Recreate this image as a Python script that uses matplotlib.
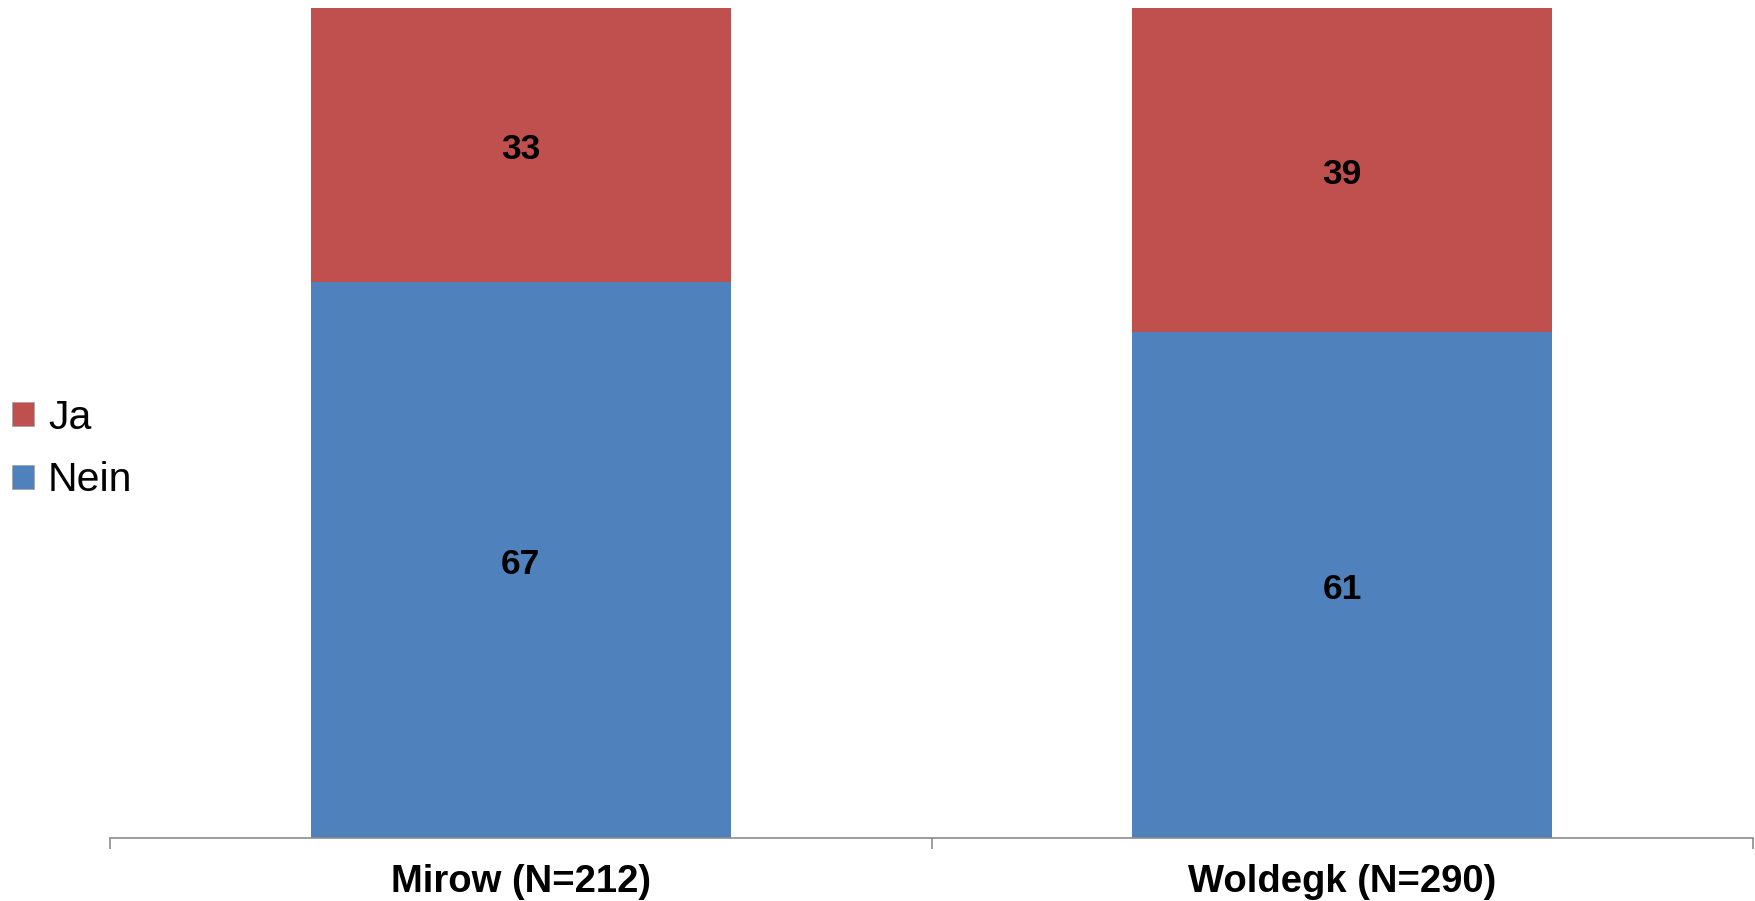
import matplotlib
matplotlib.use("Agg")
import matplotlib.pyplot as plt
from matplotlib.patches import Patch

# --- Data ---
categories = ["Mirow (N=212)", "Woldegk (N=290)"]
nein = [67, 61]
ja = [33, 39]

BLUE = "#4F81BD"
RED = "#C0504D"

plt.rcParams["font.family"] = ["Liberation Sans", "DejaVu Sans"]

fig = plt.figure(figsize=(17.56, 9.01), dpi=100)
ax = fig.add_axes([110 / 1756, 1 - 838 / 901, (1753 - 110) / 1756, (838 - 8) / 901])

x = list(range(len(categories)))
width = 0.511
ax.bar(x, nein, width=width, color=BLUE, label="Nein")
ax.bar(x, ja, width=width, bottom=nein, color=RED, label="Ja")

# value labels in the middle of each segment
for i in x:
    for val, mid in [(nein[i], nein[i] / 2), (ja[i], nein[i] + ja[i] / 2)]:
        ax.annotate(str(val), (i, mid), xytext=(0, -3), textcoords="offset points",
                    ha="center", va="center", fontsize=25.5, fontweight="bold",
                    color="black")

ax.set_xlim(-0.5, len(categories) - 0.5)
ax.set_ylim(0, 100)

# axis styling: only a grey baseline with small ticks between categories
for side in ["left", "right", "top"]:
    ax.spines[side].set_visible(False)
ax.spines["bottom"].set_color("#8c8c8c")
ax.spines["bottom"].set_linewidth(1.2)
ax.set_yticks([])
ax.set_xticks(x)
ax.set_xticklabels(categories, fontsize=27.5, fontweight="bold")
ax.tick_params(axis="x", which="major", length=0, pad=19)
ax.set_xticks([-0.5, 0.5, 1.5], minor=True)
ax.tick_params(axis="x", which="minor", length=8, width=1.2, color="#8c8c8c", direction="out")

# legend on the left, Ja above Nein
handles = [Patch(facecolor=RED, edgecolor="#a0a0a0", linewidth=0.5, label="Ja"),
           Patch(facecolor=BLUE, edgecolor="#a0a0a0", linewidth=0.5, label="Nein")]
fig.legend(handles=handles, loc="center left", bbox_to_anchor=(0.0, 1 - 449 / 901),
           frameon=False, fontsize=29.5, handlelength=0.52, handleheight=0.52,
           handletextpad=0.35, labelspacing=0.6, borderaxespad=0.0, borderpad=0.3)

fig.savefig("out.png", dpi=100, facecolor="white")
